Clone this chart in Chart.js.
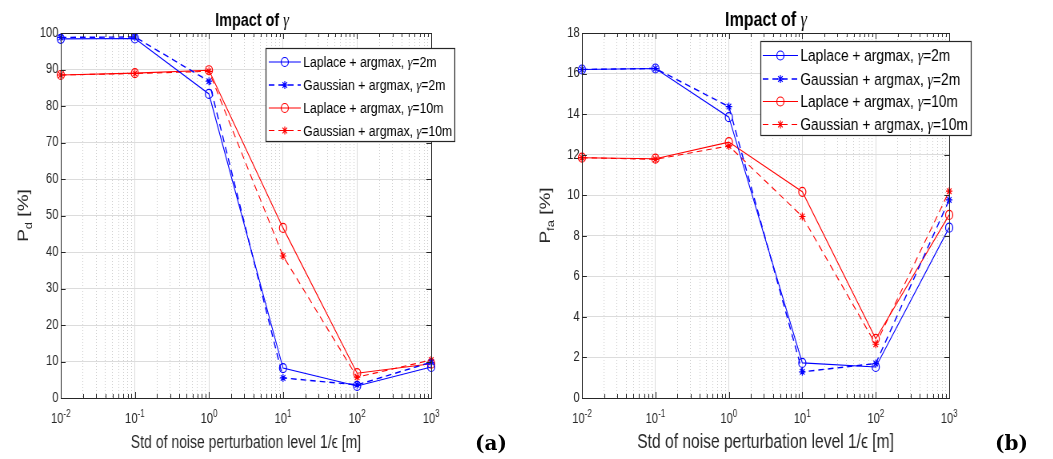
<!DOCTYPE html>
<html>
<head>
<meta charset="utf-8">
<script src="https://cdn.jsdelivr.net/npm/chart.js@4/dist/chart.umd.min.js"></script>
<style>
  body { margin: 0; background: #fff; width: 1053px; height: 459px; overflow: hidden; position: relative; }
  .panel { position: absolute; top: 0; height: 459px; }
  /* the source figure is squeezed horizontally, so each chart is drawn wide and squeezed */
  .panel canvas { transform: scaleX(0.8); transform-origin: 0 0; }
  .tag { position: absolute; font-family: "DejaVu Serif", "Liberation Serif", serif; font-weight: bold; font-size: 20px; color: #000; }
</style>
</head>
<body>
<div class="panel" style="left:0"><canvas id="chartA" width="658" height="459"></canvas></div>
<div class="panel" style="left:526px"><canvas id="chartB" width="659" height="459"></canvas></div>
<div class="tag" style="left:475px;top:431px">(a)</div>
<div class="tag" style="left:995px;top:431px">(b)</div>
<script>
// x positions (noise std 1/eps, log scale)
const xVals = [0.01, 0.1, 1, 10, 100, 1000];
const xTickExp = ['-2', '-1', '0', '1', '2', '3'];
const seriesNames = ['Laplace + argmax, γ=2m', 'Gaussian + argmax, γ=2m',
                     'Laplace + argmax, γ=10m', 'Gaussian + argmax, γ=10m'];

// panel (a): detection probability P_d [%]
const pdLap2  = [98.4, 98.5, 83.3, 8.2, 3.3, 8.5];
const pdGau2  = [98.8, 98.9, 86.8, 5.5, 3.6, 9.8];
const pdLap10 = [88.5, 89.0, 89.8, 46.6, 6.8, 9.4];
const pdGau10 = [88.5, 88.9, 89.5, 38.9, 5.7, 10.4];
const pdTicks = [0, 100, 10]; // min, max, step

// panel (b): false alarm probability P_fa [%]
const pfaLap2  = [16.2, 16.25, 13.85, 1.73, 1.53, 8.4];
const pfaGau2  = [16.2, 16.25, 14.37, 1.29, 1.7, 9.77];
const pfaLap10 = [11.85, 11.8, 12.62, 10.17, 2.92, 9.03];
const pfaGau10 = [11.85, 11.77, 12.43, 8.95, 2.65, 10.2];
const pfaTicks = [0, 18, 2];

const FONT = '"Liberation Sans", Arial, sans-serif';
const GREEK = '"Liberation Serif", "DejaVu Serif", serif';
const AXIS = '#262626';

function isPow10(v) {
  const l = Math.log10(v);
  return Math.abs(l - Math.round(l)) < 1e-9;
}

function makeDataset(i, ys) {
  const blue = i < 2;
  const dashed = i % 2 === 1;
  const col = blue ? '#0000ff' : '#ff0000';
  return {
    label: seriesNames[i],
    data: xVals.map((x, k) => ({ x: x, y: ys[k] })),
    borderColor: col,
    backgroundColor: 'rgba(0,0,0,0)',
    borderWidth: dashed && blue ? 1.4 : 1.1,
    borderDash: dashed ? [7, 5] : [],
    pointStyle: dashed ? 'star' : 'circle',
    pointRadius: dashed ? 4 : 4.5,
    pointBorderColor: col,
    pointBackgroundColor: 'rgba(0,0,0,0)',
    pointBorderWidth: 1.2,
    tension: 0,
    clip: false
  };
}

// draw text where the greek letter is set in an italic serif face
function greekText(ctx, text, x, y, size, weight) {
  const parts = text.split('γ');
  let cx = x;
  parts.forEach((p, k) => {
    ctx.font = weight + ' ' + size + 'px ' + FONT;
    ctx.fillText(p, cx, y);
    cx += ctx.measureText(p).width;
    if (k < parts.length - 1) {
      ctx.font = 'italic ' + size + 'px ' + GREEK;
      ctx.fillText('γ', cx, y);
      cx += ctx.measureText('γ').width;
    }
  });
}
function greekWidth(ctx, text, size, weight) {
  const parts = text.split('γ');
  let w = 0;
  ctx.font = weight + ' ' + size + 'px ' + FONT;
  parts.forEach(p => { w += ctx.measureText(p).width; });
  ctx.font = 'italic ' + size + 'px ' + GREEK;
  w += (parts.length - 1) * ctx.measureText('γ').width;
  return w;
}

// box around the axes, inward tick marks, title, 10^n labels, y label
const framePlugin = {
  id: 'frame',
  afterDatasetsDraw(chart, args, o) {
    const { ctx, chartArea: a, scales } = chart;
    ctx.save();
    ctx.strokeStyle = AXIS;
    ctx.lineWidth = 1;
    ctx.setLineDash([]);
    ctx.beginPath();
    scales.x.ticks.forEach(t => {
      const px = Math.round(scales.x.getPixelForValue(t.value)) + 0.5;
      const len = isPow10(t.value) ? 6 : 4;
      ctx.moveTo(px, a.bottom); ctx.lineTo(px, a.bottom - len);
      ctx.moveTo(px, a.top); ctx.lineTo(px, a.top + len);
    });
    scales.y.ticks.forEach(t => {
      const py = Math.round(scales.y.getPixelForValue(t.value)) + 0.5;
      ctx.moveTo(a.left, py); ctx.lineTo(a.left + 6, py);
      ctx.moveTo(a.right, py); ctx.lineTo(a.right - 6, py);
    });
    ctx.stroke();
    ctx.strokeRect(Math.round(a.left) + 0.5, Math.round(a.top) + 0.5,
                   Math.round(a.right - a.left), Math.round(a.bottom - a.top));

    // x tick labels 10^n
    ctx.fillStyle = AXIS;
    ctx.textBaseline = 'alphabetic';
    xVals.forEach((v, k) => {
      const px = scales.x.getPixelForValue(v);
      ctx.font = '14px ' + FONT;
      const wb = ctx.measureText('10').width;
      ctx.font = '10px ' + FONT;
      const we = ctx.measureText(xTickExp[k]).width;
      const x0 = px - (wb + we) / 2;
      ctx.font = '14px ' + FONT;
      ctx.fillText('10', x0, o.tickY);
      ctx.font = '10px ' + FONT;
      ctx.fillText(xTickExp[k], x0 + wb, o.tickY - 6.5);
    });

    // title
    ctx.fillStyle = '#000';
    const tw = greekWidth(ctx, o.title, o.titleSize, 'bold');
    greekText(ctx, o.title, o.titleX - tw / 2, 25.5, o.titleSize, 'bold');

    // rotated y label with subscript
    ctx.fillStyle = AXIS;
    ctx.translate(o.yLab.x, (a.top + a.bottom) / 2);
    ctx.rotate(-Math.PI / 2);
    ctx.font = '19px ' + FONT;
    const w1 = ctx.measureText(o.yLab.main).width;
    const w3 = ctx.measureText(o.yLab.rest).width;
    ctx.font = '13px ' + FONT;
    const w2 = ctx.measureText(o.yLab.sub).width;
    let sx = -(w1 + w2 + w3) / 2;
    ctx.font = '19px ' + FONT;
    ctx.fillText(o.yLab.main, sx, 0);
    ctx.font = '13px ' + FONT;
    ctx.fillText(o.yLab.sub, sx + w1, 5);
    ctx.font = '19px ' + FONT;
    ctx.fillText(o.yLab.rest, sx + w1 + w2, 0);
    ctx.restore();
  }
};

// legend with line + marker samples in a bordered box
const boxLegend = {
  id: 'boxLegend',
  afterDraw(chart, args, opts) {
    const { ctx } = chart;
    const b = opts.box;
    ctx.save();
    ctx.fillStyle = '#fff';
    ctx.fillRect(b.x, b.y, b.w, b.h);
    ctx.strokeStyle = AXIS;
    ctx.lineWidth = 1.2;
    ctx.strokeRect(b.x + 0.5, b.y + 0.5, b.w, b.h);
    chart.data.datasets.forEach((ds, i) => {
      const y = opts.rows[i];
      ctx.strokeStyle = ds.borderColor;
      ctx.lineWidth = ds.borderWidth;
      ctx.setLineDash(ds.borderDash);
      ctx.beginPath();
      ctx.moveTo(opts.lineX[0], y); ctx.lineTo(opts.lineX[1], y);
      ctx.stroke();
      ctx.setLineDash([]);
      ctx.lineWidth = 1.2;
      const mx = (opts.lineX[0] + opts.lineX[1]) / 2;
      const r = ds.pointRadius;
      ctx.beginPath();
      if (ds.pointStyle === 'circle') {
        ctx.arc(mx, y, r, 0, Math.PI * 2);
      } else {
        for (let k = 0; k < 4; k++) {
          const ang = k * Math.PI / 4;
          ctx.moveTo(mx - r * Math.cos(ang), y - r * Math.sin(ang));
          ctx.lineTo(mx + r * Math.cos(ang), y + r * Math.sin(ang));
        }
      }
      ctx.stroke();
      ctx.fillStyle = '#000';
      ctx.textBaseline = 'middle';
      greekText(ctx, ds.label, opts.textX, y + 1, opts.fontSize, 'normal');
    });
    ctx.restore();
  }
};

function makeChart(id, series, yRange, cfg) {
  const [yMin, yMax, yStep] = yRange;
  return new Chart(document.getElementById(id), {
    type: 'line',
    data: { datasets: series.map((ys, i) => makeDataset(i, ys)) },
    plugins: [framePlugin, boxLegend],
    options: {
      responsive: false,
      animation: false,
      layout: { padding: { left: 0, right: cfg.padRight, top: 33, bottom: 0 } },
      plugins: {
        legend: { display: false },
        tooltip: { enabled: false },
        frame: cfg.frame,
        boxLegend: cfg.legend
      },
      scales: {
        x: {
          type: 'logarithmic',
          min: xVals[0],
          max: xVals[xVals.length - 1],
          afterBuildTicks: s => {
            s.ticks = s.ticks.filter(t => {
              const r = t.value / Math.pow(10, Math.floor(Math.log10(t.value) + 1e-9));
              return Math.abs(r - Math.round(r)) < 1e-6;
            });
          },
          afterFit: s => { s.height = 61; },
          grid: {
            drawTicks: false,
            color: c => (c.tick && isPow10(c.tick.value)) ? '#dcdcdc' : '#cfcfcf',
            lineWidth: 1
          },
          border: {
            display: false,
            dash: c => (c.tick && isPow10(c.tick.value)) ? [] : [1, 2]
          },
          ticks: { display: false, autoSkip: false },
          title: {
            display: true,
            text: 'Std of noise perturbation level 1/ϵ [m]',
            color: AXIS,
            font: { family: FONT, size: cfg.xTitleSize },
            padding: { top: 0, bottom: 5 }
          }
        },
        y: {
          min: yMin,
          max: yMax,
          afterFit: s => { s.width = cfg.yWidth; },
          grid: { drawTicks: false, color: '#dcdcdc', lineWidth: 1 },
          border: { display: false },
          ticks: {
            stepSize: yStep,
            padding: 3,
            color: AXIS,
            font: { family: FONT, size: 14 }
          }
        }
      }
    }
  });
}

makeChart('chartA', [pdLap2, pdGau2, pdLap10, pdGau10], pdTicks, {
  padRight: 119,
  yWidth: 76,
  xTitleSize: 17.5,
  frame: { tickY: 423, title: 'Impact of γ', titleX: 315, titleSize: 18,
           yLab: { x: 35, main: 'P', sub: 'd', rest: ' [%]' } },
  legend: {
    box: { x: 332, y: 48, w: 236, h: 93 },
    rows: [62, 85, 108, 130.5],
    lineX: [336, 376],
    textX: 379,
    fontSize: 15.3
  }
});

makeChart('chartB', [pfaLap2, pfaGau2, pfaLap10, pfaGau10], pfaTicks, {
  padRight: 130,
  yWidth: 70,
  xTitleSize: 19.5,
  frame: { tickY: 423, title: 'Impact of γ', titleX: 300, titleSize: 20,
           yLab: { x: 30, main: 'P', sub: 'fa', rest: ' [%]' } },
  legend: {
    box: { x: 293, y: 41, w: 263, h: 94 },
    rows: [55.5, 79, 101.5, 124.5],
    lineX: [296, 340],
    textX: 343,
    fontSize: 17.2
  }
});
</script>
</body>
</html>
